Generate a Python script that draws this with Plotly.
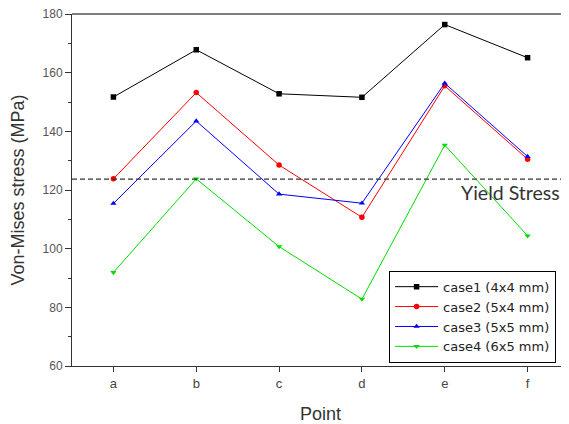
import plotly.graph_objects as go

points = ["a", "b", "c", "d", "e", "f"]
case1 = [151.7, 167.8, 152.8, 151.6, 176.4, 165.1]
case2 = [123.8, 153.2, 128.5, 110.7, 155.5, 130.5]
case3 = [115.4, 143.5, 118.6, 115.5, 156.4, 131.4]
case4 = [91.9, 123.8, 100.7, 82.8, 135.3, 104.4]
names = ["case1 (4x4 mm)", "case2 (5x4 mm)", "case3 (5x5 mm)", "case4 (6x5 mm)"]
colors = ["#000000", "#ff0000", "#0000ff", "#00dd00"]
symbols = ["square", "circle", "triangle-up", "triangle-down"]
yield_stress = 123.7
y_ticks = [60, 80, 100, 120, 140, 160, 180]

fig = go.Figure()
for vals, nm, c, s in zip([case1, case2, case3, case4], names, colors, symbols):
    fig.add_trace(go.Scatter(
        x=points, y=vals, name=nm, mode="lines+markers",
        line=dict(color=c, width=1),
        marker=dict(symbol=s, size=5.5, color=c),
    ))

fig.add_shape(type="line", xref="paper", x0=0, x1=1, yref="y",
              y0=yield_stress, y1=yield_stress,
              line=dict(color="#333333", width=1.2, dash="5px,3px"))
fig.add_shape(type="line", xref="paper", x0=0, x1=1, yref="paper",
              y0=1, y1=1, line=dict(color="#555555", width=1.5))
fig.add_annotation(text="Yield Stress", xref="paper", x=0.779, xanchor="left",
                   yref="y", y=yield_stress, yanchor="top", yshift=0,
                   showarrow=False,
                   font=dict(family="Lato, Open Sans", size=19.5, color="#333333"))

# the page body has an 8px margin, so the figure is sized to fill the window
fig.update_layout(
    width=561, height=416,
    margin=dict(l=64, r=0, t=6, b=58),
    plot_bgcolor="white", paper_bgcolor="white",
    font=dict(family="Arial, Liberation Sans", color="#333333"),
    showlegend=True,
    legend=dict(x=0.638, y=0.14, xanchor="left", yanchor="middle",
                bordercolor="#000000", borderwidth=1, bgcolor="white",
                font=dict(family="DejaVu Sans", size=13, color="#222222"),
                tracegroupgap=0, itemwidth=43),
)
fig.update_xaxes(
    type="category", range=[-0.5, 5.5],
    showline=True, linecolor="#333333", linewidth=1,
    ticks="outside", ticklen=5, tickcolor="#333333",
    tickfont=dict(size=13, color="#444444"),
    showgrid=False, zeroline=False,
    title=dict(text="Point", font=dict(size=18, color="#333333"), standoff=17),
)
fig.update_yaxes(
    range=[60, 180], tickvals=y_ticks,
    showline=True, linecolor="#333333", linewidth=1,
    ticks="outside", ticklen=6, tickcolor="#333333",
    minor=dict(dtick=10, ticks="outside", ticklen=3, tickcolor="#333333"),
    tickfont=dict(size=12, color="#555555"),
    ticklabeloverflow="allow",
    showgrid=False, zeroline=False,
    title=dict(text="Von-Mises stress (MPa)", font=dict(size=18, color="#333333"), standoff=15),
)

fig.write_html("out.html")
